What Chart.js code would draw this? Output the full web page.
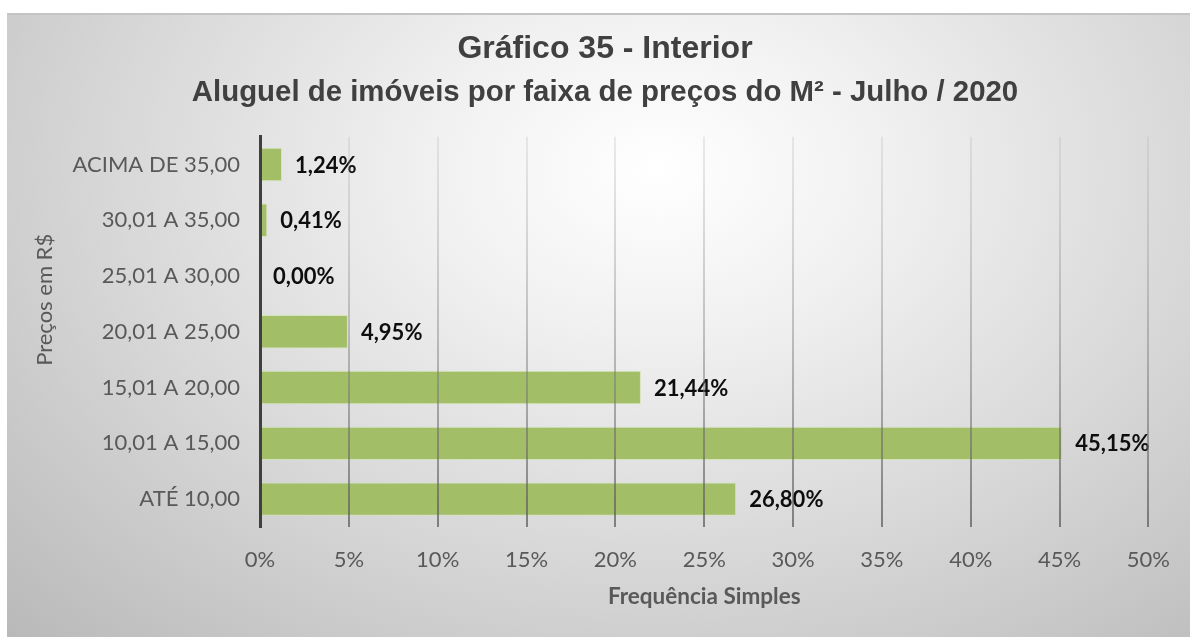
<!DOCTYPE html>
<html lang="pt-BR">
<head>
<meta charset="utf-8">
<title>Gráfico 35 - Interior</title>
<script src="https://cdn.jsdelivr.net/npm/chart.js@4.4.1/dist/chart.umd.min.js"></script>
<style>
    html, body { margin: 0; padding: 0; background: #ffffff; }
    #panel {
        position: absolute;
        left: 7px;
        top: 13px;
        width: 1183px;
        height: 624px;
        border-top: 2px solid #c4c4c4;
        box-sizing: border-box;
        background: radial-gradient(ellipse farthest-corner at 55% 25%, #ffffff 0%, #f1f1f1 24%, #d7d7d7 60%, #b9b9b9 100%);
    }
    #chartFaixa { position: absolute; left: 0; top: -2px; }
</style>
</head>
<body>
<div id="panel">
    <canvas id="chartFaixa" width="1183" height="624"></canvas>
</div>
<script>
const titleLines = ['Gráfico 35 - Interior', 'Aluguel de imóveis por faixa de preços do M² - Julho / 2020'];
const yTitle = 'Preços em R$';
const faixas = ['ACIMA DE 35,00', '30,01 A 35,00', '25,01 A 30,00', '20,01 A 25,00', '15,01 A 20,00', '10,01 A 15,00', 'ATÉ 10,00'];
const frequencia = [1.24, 0.41, 0.00, 4.95, 21.44, 45.15, 26.80];
const xTicks = [0, 5, 10, 15, 20, 25, 30, 35, 40, 45, 50];

const fmtPct = v => v.toFixed(2).replace('.', ',') + '%';
const labelFont = 'Lato, "Noto Sans", sans-serif';

// gridlines fade from light at the top to darker near the axis
function gridGradient(context) {
    const chart = context.chart;
    const area = chart.chartArea;
    if (!area) return 'rgba(120,120,120,0.4)';
    const g = chart.ctx.createLinearGradient(0, area.top, 0, area.bottom);
    g.addColorStop(0, 'rgba(170,170,170,0.22)');
    g.addColorStop(0.5, 'rgba(130,130,130,0.45)');
    g.addColorStop(1, 'rgba(90,90,90,0.72)');
    return g;
}

// value labels at the end of each bar
const barLabels = {
    id: 'barLabels',
    afterDatasetsDraw(chart) {
        const ctx = chart.ctx;
        const meta = chart.getDatasetMeta(0);
        ctx.save();
        ctx.font = 'bold 22px ' + labelFont;
        ctx.fillStyle = '#0d0d0d';
        ctx.textAlign = 'left';
        ctx.textBaseline = 'middle';
        meta.data.forEach((bar, i) => {
            ctx.fillText(fmtPct(frequencia[i]), bar.x + 13, bar.y + 1);
        });
        ctx.restore();
    }
};

// vertical axis title, sitting a little above the middle of the axis
const yAxisTitle = {
    id: 'yAxisTitle',
    afterDraw(chart) {
        const ctx = chart.ctx;
        const area = chart.chartArea;
        ctx.save();
        ctx.translate(38, (area.top + area.bottom) / 2 - 32);
        ctx.rotate(-Math.PI / 2);
        ctx.font = '22px ' + labelFont;
        ctx.fillStyle = '#595959';
        ctx.textAlign = 'center';
        ctx.textBaseline = 'middle';
        ctx.fillText(yTitle, 0, 0);
        ctx.restore();
    }
};

const ctx = document.getElementById('chartFaixa').getContext('2d');
const chart = new Chart(ctx, {
    type: 'bar',
    data: {
        labels: faixas,
        datasets: [{
            data: frequencia,
            backgroundColor: '#a2bf68',
            borderColor: 'rgba(210,228,175,0.8)',
            borderWidth: 1,
            categoryPercentage: 1,
            barPercentage: 0.6
        }]
    },
    options: {
        indexAxis: 'y',
        responsive: false,
        animation: false,
        layout: { padding: { left: 50, right: 37, top: 0, bottom: 0 } },
        plugins: {
            legend: { display: false },
            tooltip: { enabled: false },
            title: {
                display: true,
                text: titleLines[0],
                color: '#404040',
                font: { family: '"Liberation Sans", Arial, sans-serif', size: 32, weight: 'bold' },
                padding: { top: 17, bottom: 0 }
            },
            subtitle: {
                display: true,
                text: titleLines[1],
                color: '#404040',
                font: { family: '"Liberation Sans", Arial, sans-serif', size: 29.4, weight: 'bold' },
                padding: { top: 7, bottom: 26 }
            }
        },
        scales: {
            x: {
                min: 0,
                max: 50,
                afterBuildTicks: scale => { scale.ticks = xTicks.map(v => ({ value: v })); },
                afterFit: scale => { scale.height = 110; },
                grid: { color: gridGradient, lineWidth: 2, drawTicks: false, z: 1 },
                border: { display: false },
                ticks: {
                    padding: 20,
                    color: '#595959',
                    font: { family: labelFont, size: 22 },
                    callback: v => v + '%'
                },
                title: {
                    display: true,
                    text: 'Frequência Simples',
                    color: '#595959',
                    font: { family: labelFont, size: 22.5, weight: 'bold' },
                    padding: { top: 0, bottom: 27 }
                }
            },
            y: {
                afterFit: scale => { scale.width = 203; },
                grid: { display: false, drawTicks: false },
                border: { display: true, color: '#404040', width: 3, z: 2 },
                ticks: {
                    padding: 20,
                    color: '#595959',
                    font: { family: labelFont, size: 22 }
                }
            }
        }
    },
    plugins: [barLabels, yAxisTitle]
});
</script>
</body>
</html>
